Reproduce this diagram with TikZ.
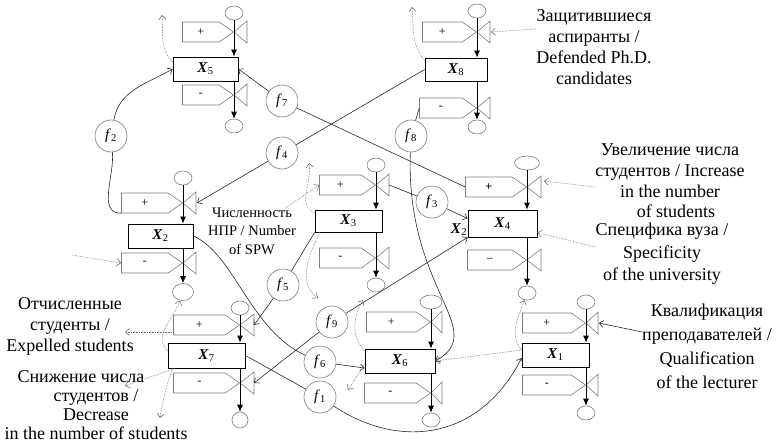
\documentclass[tikz,border=0pt]{standalone}
\usepackage{fontspec}
\setmainfont{Liberation Serif}
\usetikzlibrary{shapes,arrows.meta}
\definecolor{flag_gray}{RGB}{125,125,125}
\definecolor{hint_gray}{RGB}{110,110,110}
\definecolor{link_dark}{RGB}{40,40,40}
\tikzstyle{stock}=[rectangle,draw=black,line width=0.8pt,minimum width=66pt,
  minimum height=24pt,inner sep=1pt,font=\fontsize{15}{15}\selectfont]
\tikzstyle{flag}=[signal,signal to=east,signal pointer angle=70,draw=flag_gray,
  line width=0.6pt,minimum height=20pt,inner sep=1pt,anchor=east,
  font=\fontsize{12}{12}\selectfont]
\tikzstyle{valve}=[draw=flag_gray,line width=0.6pt]
\tikzstyle{sink}=[ellipse,draw=flag_gray,line width=0.6pt,minimum width=18pt,
  minimum height=14pt,inner sep=0pt]
\tikzstyle{fn}=[circle,draw=flag_gray,line width=0.6pt,minimum size=32pt,
  inner sep=0pt,font=\fontsize{15}{15}\selectfont]
\tikzstyle{flow}=[draw=black,line width=0.8pt,-{Latex[length=7pt,width=6pt]}]
\tikzstyle{link}=[draw=link_dark,line width=0.6pt]
\tikzstyle{hint}=[draw=hint_gray,line width=0.6pt,densely dotted]
\tikzstyle{txt}=[align=center,inner sep=0pt]
\newcommand{\xlab}[1]{\textbf{\textit{X}}\textsubscript{#1}}
\newcommand{\flab}[1]{\textit{f}\textsubscript{#1}}

\begin{document}
\begin{tikzpicture}[x=1pt,y=1pt,>={Straight Barb[length=4pt,width=7pt]}]
    \useasboundingbox (0,0) rectangle (784,-444);
    % X5
    \node [style=stock,minimum width=65pt] (x5) at (205.5,-69) {\xlab{5}};
    \node [style=sink] (x5ci) at (234,-13) {};
    \node [style=sink] (x5co) at (234,-126) {};
    \coordinate (x5vi) at (234,-32);
    \coordinate (x5vo) at (234,-95);
    \node [style=flag,minimum width=51pt] (x5fi) at (x5vi) {+};
    \node [style=flag,minimum width=51pt] (x5fo) at (x5vo) {-};
    \draw [style=valve] (x5vi) -- ++(13,11) -- ++(0,-22) -- cycle;
    \draw [style=valve] (x5vo) -- ++(13,11) -- ++(0,-22) -- cycle;
    \draw [style=flow] (x5ci) -- (x5vi |- x5.north);
    \draw [style=flow] (x5vo |- x5.south) -- (x5co);
    % X8
    \node [style=stock,minimum width=62pt,minimum height=23pt] (x8) at (456,-69.5) {\xlab{8}};
    \node [style=sink] (x8ci) at (477,-11) {};
    \node [style=sink] (x8co) at (477,-127) {};
    \coordinate (x8vi) at (477,-32);
    \coordinate (x8vo) at (477,-108);
    \node [style=flag,minimum width=54pt] (x8fi) at (x8vi) {+};
    \node [style=flag,minimum width=57pt] (x8fo) at (x8vo) {-};
    \draw [style=valve] (x8vi) -- ++(13,11) -- ++(0,-22) -- cycle;
    \draw [style=valve] (x8vo) -- ++(13,11) -- ++(0,-22) -- cycle;
    \draw [style=flow] (x8ci) -- (x8vi |- x8.north);
    \draw [style=flow] (x8vo |- x8.south) -- (x8co);
    % X2
    \node [style=stock,minimum width=65pt] (x2) at (160.5,-236) {\xlab{2}};
    \node [style=sink] (x2ci) at (183,-178) {};
    \node [style=sink,minimum width=21pt,minimum height=17pt] (x2co) at (183,-292) {};
    \coordinate (x2vi) at (183,-203);
    \coordinate (x2vo) at (183,-263);
    \node [style=flag,minimum width=61pt] (x2fi) at (x2vi) {+};
    \node [style=flag,minimum width=61pt] (x2fo) at (x2vo) {-};
    \draw [style=valve] (x2vi) -- ++(13,11) -- ++(0,-22) -- cycle;
    \draw [style=valve] (x2vo) -- ++(13,11) -- ++(0,-22) -- cycle;
    \draw [style=flow] (x2ci) -- (x2vi |- x2.north);
    \draw [style=flow] (x2vo |- x2.south) -- (x2co);
    % X3
    \node [style=stock,minimum width=67pt,minimum height=22pt] (x3) at (348.5,-221) {\xlab{3}};
    \node [style=sink] (x3ci) at (376,-165) {};
    \node [style=sink] (x3co) at (376,-285) {};
    \coordinate (x3vi) at (376,-185);
    \coordinate (x3vo) at (376,-258);
    \node [style=flag,minimum width=56pt] (x3fi) at (x3vi) {+};
    \node [style=flag,minimum width=56pt] (x3fo) at (x3vo) {-};
    \draw [style=valve] (x3vi) -- ++(13,11) -- ++(0,-22) -- cycle;
    \draw [style=valve] (x3vo) -- ++(13,11) -- ++(0,-22) -- cycle;
    \draw [style=flow] (x3ci) -- (x3vi |- x3.north);
    \draw [style=flow] (x3vo |- x3.south) -- (x3co);
    % X4
    \node [style=stock,minimum width=69pt,minimum height=27pt] (x4) at (502.5,-223.5) {\xlab{4}};
    \node [style=sink,minimum width=25pt] (x4ci) at (527,-163) {};
    \node [style=sink] (x4co) at (527,-293) {};
    \coordinate (x4vi) at (527,-187);
    \coordinate (x4vo) at (527,-260);
    \node [style=flag,minimum width=61pt] (x4fi) at (x4vi) {\textbf{+}};
    \node [style=flag,minimum width=59pt] (x4fo) at (x4vo) {--};
    \draw [style=valve] (x4vi) -- ++(14,11) -- ++(0,-22) -- cycle;
    \draw [style=valve] (x4vo) -- ++(14,11) -- ++(0,-22) -- cycle;
    \draw [style=flow] (x4ci) -- (x4vi |- x4.north);
    \draw [style=flow] (x4vo |- x4.south) -- (x4co);
    \node [font=\fontsize{15}{15}\selectfont,inner sep=0pt] (x4lab) at (459,-230) {\xlab{2}};
    % X6
    \node [style=stock,minimum width=70pt] (x6) at (400,-361) {\xlab{6}};
    \node [style=sink,minimum width=22pt] (x6ci) at (431,-302) {};
    \node [style=sink] (x6co) at (431,-420) {};
    \coordinate (x6vi) at (431,-322);
    \coordinate (x6vo) at (431,-393);
    \node [style=flag,minimum width=64pt] (x6fi) at (x6vi) {+};
    \node [style=flag,minimum width=66pt] (x6fo) at (x6vo) {-};
    \draw [style=valve] (x6vi) -- ++(11,11) -- ++(0,-22) -- cycle;
    \draw [style=valve] (x6vo) -- ++(11,11) -- ++(0,-22) -- cycle;
    \draw [style=flow] (x6ci) -- (x6vi |- x6.north);
    \draw [style=flow] (x6vo |- x6.south) -- (x6co);
    % X7
    \node [style=stock,minimum width=77pt,minimum height=25pt] (x7) at (206.5,-355.5) {\xlab{7}};
    \node [style=sink] (x7ci) at (240,-308) {};
    \node [style=sink,minimum width=16pt,minimum height=16pt] (x7co) at (240,-420) {};
    \coordinate (x7vi) at (240,-325);
    \coordinate (x7vo) at (240,-383);
    \node [style=flag,minimum width=66pt] (x7fi) at (x7vi) {+};
    \node [style=flag,minimum width=66pt] (x7fo) at (x7vo) {-};
    \draw [style=valve] (x7vi) -- ++(14,11) -- ++(0,-22) -- cycle;
    \draw [style=valve] (x7vo) -- ++(14,11) -- ++(0,-22) -- cycle;
    \draw [style=flow] (x7ci) -- (x7vi |- x7.north);
    \draw [style=flow] (x7vo |- x7.south) -- (x7co);
    % X1
    \node [style=stock,minimum width=67pt] (x1) at (555.5,-355) {\xlab{1}};
    \node [style=sink] (x1ci) at (586,-302) {};
    \node [style=sink] (x1co) at (586,-413) {};
    \coordinate (x1vi) at (586,-323);
    \coordinate (x1vo) at (586,-385);
    \node [style=flag,minimum width=63pt] (x1fi) at (x1vi) {+};
    \node [style=flag,minimum width=63pt] (x1fo) at (x1vo) {-};
    \draw [style=valve] (x1vi) -- ++(12,11) -- ++(0,-22) -- cycle;
    \draw [style=valve] (x1vo) -- ++(12,11) -- ++(0,-22) -- cycle;
    \draw [style=flow] (x1ci) -- (x1vi |- x1.north);
    \draw [style=flow] (x1vo |- x1.south) -- (x1co);
    % functions
    \node [style=fn] (f2) at (111,-136) {\flab{2}};
    \node [style=fn] (f7) at (282,-101) {\flab{7}};
    \node [style=fn] (f4) at (282,-153) {\flab{4}};
    \node [style=fn] (f8) at (411,-136) {\flab{8}};
    \node [style=fn] (f3) at (432,-202) {\flab{3}};
    \node [style=fn] (f5) at (283,-285) {\flab{5}};
    \node [style=fn] (f9) at (332,-322) {\flab{9}};
    \node [style=fn] (f6) at (320,-362) {\flab{6}};
    \node [style=fn] (f1) at (320,-397) {\flab{1}};
    % texts
    \node [style=txt,font=\fontsize{18}{21}\selectfont] (tdef) at (594,-47)
      {Защитившиеся\\аспиранты /\\Defended Ph.D.\\candidates};
    \node [style=txt,font=\fontsize{18}{20.7}\selectfont] (tinc) at (670,-181)
      {Увеличение числа\\студентов / Increase\\in the number\\\hspace*{12pt}of students};
    \node [style=txt,font=\fontsize{18}{22.5}\selectfont] (tspec) at (662,-254)
      {Специфика вуза /\\Specificity\\of the university};
    \node [style=txt,font=\fontsize{18}{24}\selectfont] (tqual) at (707,-346)
      {Квалификация\\преподавателей /\\Qualification\\of the lecturer};
    \node [style=txt,font=\fontsize{14.5}{18.5}\selectfont] (tspw) at (252,-231)
      {Численность\\НПР / Number\\of SPW};
    \node [style=txt,font=\fontsize{18}{21}\selectfont] (texp) at (70,-326)
      {Отчисленные\\студенты /\\Expelled students};
    \node [style=txt,font=\fontsize{18}{19}\selectfont] (tdec) at (96,-405)
      {Снижение числа\hspace*{30pt}\\студентов /\hspace*{30pt}\\Decrease\hspace*{30pt}\\in the number of students};
    % free ends
    \coordinate (x5up) at (162,-15);
    \coordinate (x8up) at (412,-7);
    \coordinate (x2src) at (72,-255);
    \coordinate (x3up) at (309,-163);
    \coordinate (x3dn) at (318,-298);
    \coordinate (x6up) at (363,-300);
    \coordinate (x6dn) at (348,-390);
    \coordinate (x7dn) at (160,-418);
    \coordinate (texpin) at (125,-332);
    \coordinate (tdecin) at (125,-386);
    % solid links
    \draw [style=link,->] (f2) to[out=80,in=210] (x5.west);
    \draw [style=link] (f2) to[out=-85,in=180] (x2fi.south west);
    \draw [style=link,->] (f7) -- (x5.east);
    \draw [style=link] (f7) -- (x4fi.west);
    \draw [style=link] (x8.west) -- (f4);
    \draw [style=link,->] (f4) -- ([xshift=14pt]x2vi);
    \draw [style=link] (x8fo.west) -- (f8);
    \draw [style=link,->] (f8) .. controls (405,-290) and (490,-330) .. (x6.east);
    \draw [style=link] ([xshift=13pt]x3vi) -- (f3);
    \draw [style=link,->] (f3) -- ([yshift=5pt]x4.west);
    \draw [style=link] (x3.south west) -- (f5);
    \draw [style=link,->] (f5) -- ([xshift=14pt]x7vi);
    \draw [style=link,->] (f9) -- (x4.south west);
    \draw [style=link,->] (f9) -- ([xshift=14pt]x7vo);
    \draw [style=link] (x2.east) .. controls (235,-255) and (250,-330) .. (f6);
    \draw [style=link,->] (f6) -- ([yshift=-7pt]x6.west);
    \draw [style=link] (x7.east) -- (f1);
    \draw [style=link,->] (f1) .. controls (400,-450) and (480,-440) .. ([yshift=-3pt]x1.west);
    \draw [style=link,->] ([yshift=14pt]tqual.west) -- ([xshift=13pt]x1vi);
    % dotted links
    \draw [style=hint,->] ([yshift=7pt]x5.west) to[out=135,in=-85] (x5up);
    \draw [style=hint,->] ([yshift=9pt]x8.west) to[out=130,in=-85] (x8up);
    \draw [style=hint,->] ([yshift=18pt]tdef.west) -- ([xshift=14pt]x8vi);
    \draw [style=hint,->] (x2src) -- (x2fo.west);
    \draw [style=hint,->] ([xshift=-10pt]tspw.north east) -- (x3fi.west);
    \draw [style=hint,->] ([yshift=-3pt]x3.north west) to[out=160,in=-80] (x3up);
    \draw [style=hint,->] ([xshift=5pt]x3.south west) to[out=-115,in=145] (x3dn);
    \draw [style=hint,->] ([yshift=-6pt]tinc.west) -- ([shift={(17,6)}]x4vi);
    \draw [style=hint,->] ([yshift=7pt]tspec.west) -- ([yshift=-9pt]x4.east);
    \draw [style=hint,->] ([yshift=-2pt]x6.north west) to[out=135,in=-120] (x6up);
    \draw [style=hint,->] ([yshift=-3pt]x6.west) -- (x6dn);
    \draw [style=hint,->] ([yshift=5pt]x1.west) to[out=130,in=-110] (x4co);
    \draw [style=hint,->] ([yshift=5pt]x1.west) -- (x6.east);
    \draw [style=hint,->] ([yshift=-7pt]x7fi.west) -- (texpin);
    \draw [style=hint,->] ([yshift=5pt]x7.west) to[out=140,in=-110] (x2co);
    \draw [style=hint,->] ([xshift=7pt]x7.south west) -- (tdecin);
    \draw [style=hint,->] ([xshift=5pt]x7.south west) to[out=-110,in=80] (x7dn);
  \end{tikzpicture}
\end{document}
